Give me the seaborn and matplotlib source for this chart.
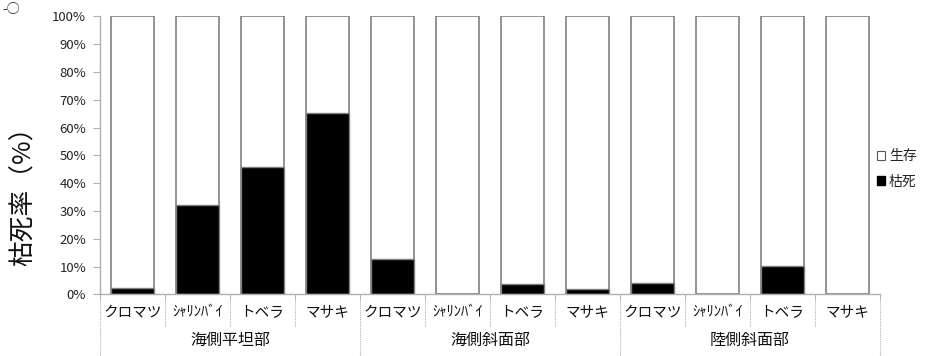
import numpy as np
import pandas as pd
import matplotlib
matplotlib.use('Agg')
import matplotlib.pyplot as plt
import matplotlib.transforms as mtransforms
from matplotlib.patches import Patch
from matplotlib.ticker import PercentFormatter
import seaborn as sns

# ---- data ----
groups = ['海側平坦部', '海側斜面部', '陸側斜面部']
species = ['クロマツ', 'ｼｬﾘﾝﾊﾞｲ', 'トベラ', 'マサキ']
dead = [2.2, 32.1, 45.8, 65.4,
        12.6, 0.0, 3.6, 1.8,
        4.1, 0.0, 10.1, 0.0]
total = [100.0] * 12
legend_labels = ['生存', '枯死']
y_ticks = list(range(0, 101, 10))
y_label = '枯死率（%）'
corner_text = '-○'

sns.set_style('white')
plt.rcParams['font.family'] = ['Noto Sans CJK JP', 'DejaVu Sans']

df = pd.DataFrame({
    'group': np.repeat(groups, len(species)),
    'species': species * len(groups),
    'dead': dead,
    'total': total,
})
df['key'] = df['group'] + '/' + df['species']

GRAY = '#808080'
LGRAY = '#b0b0b0'

fig = plt.figure(figsize=(9.27, 3.56), dpi=100)
ax = fig.add_axes([100 / 927, 61.7 / 356, 780 / 927, 277.8 / 356])

sns.barplot(data=df, x='key', y='total', color='white', edgecolor=GRAY,
            linewidth=1.2, width=0.667, saturation=1, errorbar=None, ax=ax)
sns.barplot(data=df, x='key', y='dead', color='black', edgecolor=GRAY,
            linewidth=1.0, width=0.667, saturation=1, errorbar=None, ax=ax)

n = len(df)
ax.set_xlim(-0.5, n - 0.5)
ax.set_ylim(0, 100)
sns.despine(ax=ax, top=True, right=True)
for s in ['left', 'bottom']:
    ax.spines[s].set_color(LGRAY)
    ax.spines[s].set_linewidth(1.0)

ax.set_yticks(y_ticks)
ax.yaxis.set_major_formatter(PercentFormatter(decimals=0))
ax.tick_params(axis='y', left=True, length=5, color=LGRAY, labelsize=9.5,
               labelcolor='#222222', pad=5)

ax.set_xticks(range(n))
ax.set_xticklabels(df['species'])
ax.tick_params(axis='x', which='major', length=0, pad=8, labelsize=10.5,
               labelcolor='#111111')
ax.set_xticks(np.arange(-0.5, n, 1), minor=True)
ax.tick_params(axis='x', which='minor', bottom=True, length=4, color=LGRAY)
ax.set_xlabel('')

ax.set_ylabel(y_label, fontsize=18.5, va='center', color='#111111')
ax.yaxis.set_label_coords(-0.097, 0.375)

trans = mtransforms.blended_transform_factory(ax.transData, ax.transAxes)
for i, b in enumerate(np.arange(-0.5, n, 1)):
    y_end = -0.222 if i % len(species) == 0 else -0.118
    ax.plot([b, b], [0, y_end], transform=trans, clip_on=False,
            color=LGRAY, lw=0.8, ls=(0, (1, 1)))

for gi, g in enumerate(groups):
    cx = gi * len(species) + (len(species) - 1) / 2
    ax.text(cx, -0.166, g, transform=trans, ha='center', va='center',
            fontsize=11.5, color='#111111')

handles = [Patch(facecolor='white', edgecolor='#555555', linewidth=0.8),
           Patch(facecolor='black', edgecolor='black')]
fig.legend(handles, legend_labels, loc='center left',
           bbox_to_anchor=(877 / 927, 1 - 169 / 356), frameon=False,
           fontsize=10, handlelength=0.6, handleheight=0.6,
           handletextpad=0.25, labelspacing=0.8, borderpad=0,
           borderaxespad=0)

fig.text(2 / 927, 1 - 10 / 356, corner_text, fontsize=9.5, va='center',
         ha='left', color='#222222')

fig.savefig('out.png', dpi=100)
